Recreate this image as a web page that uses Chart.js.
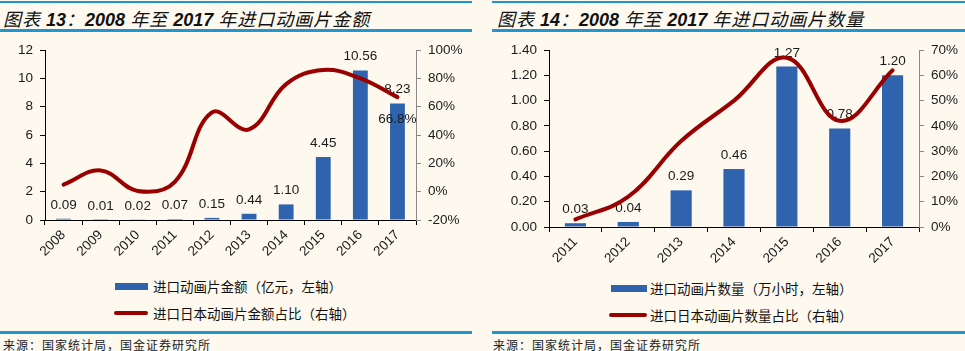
<!DOCTYPE html>
<html>
<head>
<meta charset="utf-8">
<script src="https://cdn.jsdelivr.net/npm/chart.js@4/dist/chart.umd.min.js"></script>
<style>
  body { margin: 0; background: #fdf9ee; width: 965px; height: 351px; overflow: hidden; position: relative; font-family: "Liberation Sans", "Noto Sans CJK SC", sans-serif; }
  .rule { position: absolute; background: #1e96d2; }
  .title { position: absolute; top: 5px; font-size: 18px; font-weight: bold; font-style: italic; color: #111; white-space: nowrap; font-family: "Liberation Sans", "Noto Sans CJK SC", sans-serif; }
  .title .cjk { font-family: "Noto Sans CJK SC", sans-serif; font-weight: normal; letter-spacing: 1px; }
  .box { position: absolute; top: 35px; width: 480px; height: 240px; }
  .legend { position: absolute; font-family: "Noto Sans CJK SC", sans-serif; font-size: 13.5px; color: #111; white-space: nowrap; line-height: 16px; }
  .sw { position: absolute; }
  .source { position: absolute; top: 337px; font-family: "Noto Sans CJK SC", serif; font-size: 12px; letter-spacing: 1px; color: #222; white-space: nowrap; line-height: 16px; }
</style>
</head>
<body>
<div class="rule" style="left:0;top:1px;width:472px;height:2px"></div>
<div class="rule" style="left:0;top:29px;width:472px;height:3px"></div>
<div class="title" style="left:3px"><span class="cjk">图表 </span>13<span class="cjk">：</span>2008 <span class="cjk">年至 </span>2017 <span class="cjk">年进口动画片金额</span></div>
<div class="box" style="left:0"><canvas id="chart1" width="480" height="240"></canvas></div>
<div class="sw" style="left:115px;top:283px;width:33px;height:7px;background:#2f63ae"></div>
<div class="legend" style="left:153px;top:278px">进口动画片金额（亿元，左轴）</div>
<div class="sw" style="left:114px;top:311px;width:34px;height:4px;border-radius:2px;background:#990000"></div>
<div class="legend" style="left:153px;top:305px">进口日本动画片金额占比（右轴）</div>
<div class="rule" style="left:0;top:331px;width:472px;height:3px"></div>
<div class="source" style="left:3px">来源：国家统计局，国金证券研究所</div>

<div class="rule" style="left:492px;top:1px;width:473px;height:2px"></div>
<div class="rule" style="left:492px;top:29px;width:473px;height:3px"></div>
<div class="title" style="left:497px"><span class="cjk">图表 </span>14<span class="cjk">：</span>2008 <span class="cjk">年至 </span>2017 <span class="cjk">年进口动画片数量</span></div>
<div class="box" style="left:485px"><canvas id="chart2" width="480" height="240"></canvas></div>
<div class="sw" style="left:611px;top:285px;width:36px;height:7px;background:#2f63ae"></div>
<div class="legend" style="left:650px;top:280px">进口动画片数量（万小时，左轴）</div>
<div class="sw" style="left:609px;top:313px;width:38px;height:4px;border-radius:2px;background:#990000"></div>
<div class="legend" style="left:650px;top:307px">进口日本动画片数量占比（右轴）</div>
<div class="rule" style="left:492px;top:331px;width:473px;height:3px"></div>
<div class="source" style="left:493px">来源：国家统计局，国金证券研究所</div>

<script>
// chart 13: import value of animated films
const years1 = ['2008', '2009', '2010', '2011', '2012', '2013', '2014', '2015', '2016', '2017'];
const amount = [0.09, 0.01, 0.02, 0.07, 0.15, 0.44, 1.10, 4.45, 10.56, 8.23];
const amountShare = [5, 15, 0.5, 7, 56, 44, 76, 86, 80, 66.8];

// chart 14: import hours of animated films
const years2 = ['2011', '2012', '2013', '2014', '2015', '2016', '2017'];
const hours = [0.03, 0.04, 0.29, 0.46, 1.27, 0.78, 1.20];
const hoursShare = [3, 12, 34, 50, 67, 42, 62];

const barBlue = '#2f63ae';
const lineRed = '#990000';
const tickFont = { family: 'Liberation Sans', size: 13.5 };

// value labels: bars before datasets (so the line sits on top), line labels after
const valueLabels = {
  id: 'valueLabels',
  beforeDatasetsDraw(chart) {
    const ctx = chart.ctx;
    ctx.save();
    ctx.font = '13.5px "Liberation Sans"';
    ctx.fillStyle = '#1a1a1a';
    ctx.textAlign = 'center';
    ctx.textBaseline = 'alphabetic';
    chart.data.datasets.forEach((ds, i) => {
      if (ds.type !== 'bar') return;
      chart.getDatasetMeta(i).data.forEach((el, j) => {
        ctx.fillText(ds.data[j].toFixed(2), el.x, el.y - 10);
      });
    });
    ctx.restore();
  },
  afterDatasetsDraw(chart) {
    const ctx = chart.ctx;
    ctx.save();
    ctx.font = '13.5px "Liberation Sans"';
    ctx.fillStyle = '#1a1a1a';
    ctx.textAlign = 'center';
    chart.data.datasets.forEach((ds, i) => {
      if (!ds.showLabels) return;
      const pts = chart.getDatasetMeta(i).data;
      ds.showLabels.forEach(j => {
        ctx.fillText(ds.data[j].toFixed(1) + '%', pts[j].x, pts[j].y + 26);
      });
    });
    ctx.restore();
  }
};

function makeChart(id, labels, bars, share, opts) {
  const ctx = document.getElementById(id).getContext('2d');
  return new Chart(ctx, {
    type: 'bar',
    data: {
      labels: labels,
      datasets: [{
        type: 'line',
        data: share,
        yAxisID: 'y1',
        borderColor: lineRed,
        borderWidth: 4,
        borderCapStyle: 'round',
        pointRadius: 0,
        tension: 0.4,
        order: 0,
        showLabels: opts.lineLabels
      }, {
        type: 'bar',
        data: bars,
        yAxisID: 'y',
        backgroundColor: barBlue,
        categoryPercentage: 1,
        barPercentage: 0.4,
        order: 1
      }]
    },
    options: {
      responsive: false,
      animation: false,
      events: [],
      layout: { padding: { top: 15, left: 0, right: 0, bottom: 0 } },
      plugins: { legend: { display: false }, tooltip: { enabled: false } },
      scales: {
        x: {
          offset: true,
          grid: { display: true, drawOnChartArea: false, drawTicks: true, tickLength: 5, color: '#000', offset: true },
          border: { display: true, color: '#000', width: 1 },
          ticks: { minRotation: 45, maxRotation: 45, font: tickFont, color: '#1a1a1a', padding: 2 },
          afterFit(s) { s.height = opts.xHeight; }
        },
        y: {
          position: 'left',
          min: opts.yMin, max: opts.yMax,
          grid: { display: true, drawOnChartArea: false, drawTicks: true, tickLength: 5, color: '#000' },
          border: { display: true, color: '#000', width: 1 },
          ticks: { stepSize: opts.yStep, font: tickFont, color: '#1a1a1a', padding: 7,
                   callback: v => opts.yFmt(v) },
          afterFit(s) { s.width = opts.leftW; }
        },
        y1: {
          position: 'right',
          min: opts.rMin, max: opts.rMax,
          grid: { display: true, drawOnChartArea: false, drawTicks: true, tickLength: 5, color: '#888' },
          border: { display: true, color: '#888', width: 1 },
          ticks: { stepSize: opts.rStep, font: tickFont, color: '#1a1a1a', padding: 7,
                   callback: v => v + '%' },
          afterFit(s) { s.width = opts.rightW; }
        }
      }
    },
    plugins: [valueLabels]
  });
}

makeChart('chart1', years1, amount, amountShare, {
  yMin: 0, yMax: 12, yStep: 2, yFmt: v => String(v),
  rMin: -20, rMax: 100, rStep: 20,
  leftW: 45, rightW: 64, xHeight: 55, lineLabels: [9]
});

makeChart('chart2', years2, hours, hoursShare, {
  yMin: 0, yMax: 1.4, yStep: 0.2, yFmt: v => v.toFixed(2),
  rMin: 0, rMax: 70, rStep: 10,
  leftW: 64, rightW: 46, xHeight: 48, lineLabels: []
});
</script>
</body>
</html>
